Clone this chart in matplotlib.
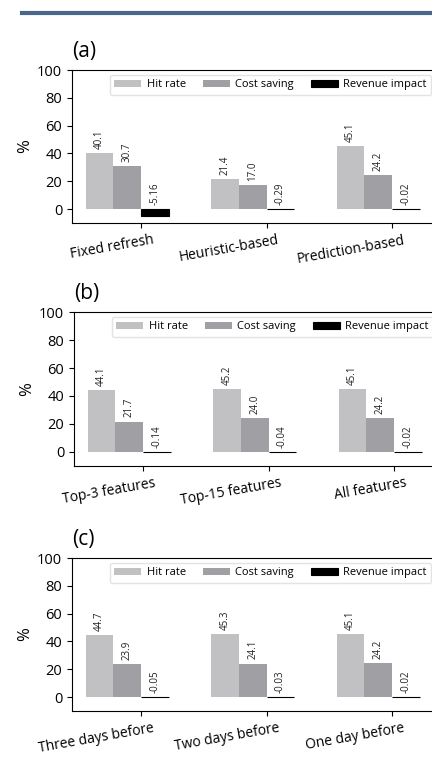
import matplotlib
matplotlib.use('Agg')
import matplotlib.pyplot as plt
import matplotlib.transforms as mtransforms
from matplotlib.lines import Line2D
import numpy as np

plt.rcParams['font.family'] = ['Open Sans', 'DejaVu Sans']

# data
series = ['Hit rate', 'Cost saving', 'Revenue impact']
colors = ['#c1c1c3', '#a0a0a4', '#000000']

cats_a = ['Fixed refresh', 'Heuristic-based', 'Prediction-based']
hit_a = [40.1, 21.4, 45.1]
cost_a = [30.7, 17.0, 24.2]
rev_a = [-5.16, -0.29, -0.02]

cats_b = ['Top-3 features', 'Top-15 features', 'All features']
hit_b = [44.1, 45.2, 45.1]
cost_b = [21.7, 24.0, 24.2]
rev_b = [-0.14, -0.04, -0.02]

cats_c = ['Three days before', 'Two days before', 'One day before']
hit_c = [44.7, 45.3, 45.1]
cost_c = [23.9, 24.1, 24.2]
rev_c = [-0.05, -0.03, -0.02]

panels = [('(a)', cats_a, [hit_a, cost_a, rev_a], 72, 70, 223),
          ('(b)', cats_b, [hit_b, cost_b, rev_b], 74, 312, 466),
          ('(c)', cats_c, [hit_c, cost_c, rev_c], 72, 558, 711)]

W, H = 432, 779
fig = plt.figure(figsize=(W / 100, H / 100), dpi=100)

# header rule
fig.add_artist(Line2D([22 / W, 1], [1 - 13 / H, 1 - 13 / H], color='#4a6688',
                      linewidth=3, transform=fig.transFigure))

width = 0.22
for title, cats, vals, left, top, bottom in panels:
    ax = fig.add_axes([left / W, 1 - bottom / H, 389 / W, (bottom - top) / H])
    x = np.arange(len(cats))
    for i, (name, v) in enumerate(zip(series, vals)):
        pos = x + (i - 1.5) * width
        ax.bar(pos, v, width=width, color=colors[i], label=name,
               edgecolor='black' if i == 2 else 'none',
               linewidth=0.8 if i == 2 else 0)
        for p, h in zip(pos, v):
            txt = f'{h:.2f}' if i == 2 else f'{h:.1f}'
            ax.annotate(txt, (p, max(h, 0)), xytext=(0, 3), textcoords='offset points',
                        ha='center', va='bottom', rotation=90, fontsize=7,
                        color='#222222')
    ax.set_xlim(-0.55, 2.55)
    ax.set_ylim(-10, 100)
    ax.set_yticks([0, 20, 40, 60, 80, 100])
    ax.set_xticks(x)
    ax.set_xticklabels(cats, rotation=10, ha='right', fontsize=10)
    off = mtransforms.ScaledTranslation(0.14, 0, fig.dpi_scale_trans)
    for lab in ax.get_xticklabels():
        lab.set_transform(lab.get_transform() + off)
    ax.tick_params(axis='y', labelsize=10.5)
    ax.set_ylabel('%', fontsize=12, labelpad=3)
    ax.set_title(title, loc='left', fontsize=15, pad=9)
    ax.legend(loc='upper left', bbox_to_anchor=(38 / 389, 1 - 5 / (bottom - top)),
              ncol=3, fontsize=8, handlelength=2.4, handletextpad=0.5,
              columnspacing=1.55, edgecolor='#dddddd', borderaxespad=0)

plt.savefig('out.png', dpi=100)
